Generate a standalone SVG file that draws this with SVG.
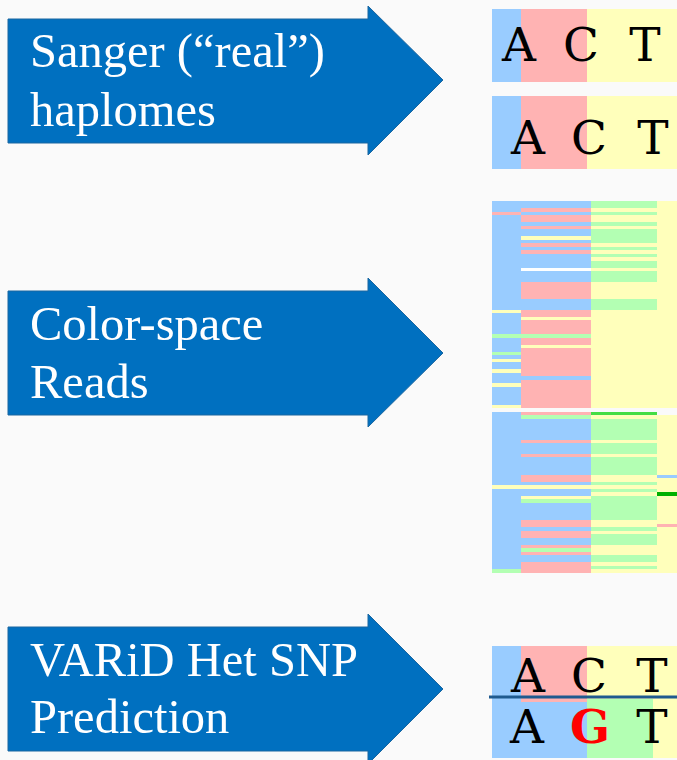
<svg xmlns="http://www.w3.org/2000/svg" width="677" height="760" viewBox="0 0 677 760">
<style>
.arrow{fill:#0070c0;stroke:#1a66a0;stroke-width:1}
.lbl{font-family:"Liberation Serif","DejaVu Serif",serif;font-size:48.5px;fill:#ffffff}
.b{fill:#99ccff}.p{fill:#ffb3b3}.y{fill:#ffffbb}.g{fill:#b3ffb3}.w{fill:#ffffff}
.nt{font-family:"DejaVu Serif","Liberation Serif",serif;font-size:47px;fill:#000;text-anchor:middle}
</style>
<rect width="677" height="760" fill="#fafafa"/>
<g id="arrow-sanger">
<polygon class="arrow" points="8,19 368,19 368,6 443,80 368,155 368,143 8,143"/>
<text class="lbl" x="30" y="67">Sanger (“real”)</text>
<text class="lbl" x="30" y="126">haplomes</text>
</g>
<g id="arrow-reads">
<polygon class="arrow" points="8,291 368,291 368,278 443,353 368,427 368,415 8,415"/>
<text class="lbl" x="30" y="340">Color-space</text>
<text class="lbl" x="30" y="398">Reads</text>
</g>
<g id="arrow-varid">
<polygon class="arrow" points="8,627 368,627 368,614 443,689 368,764 368,751 8,751"/>
<text class="lbl" x="30" y="676">VARiD Het SNP</text>
<text class="lbl" x="30" y="733">Prediction</text>
</g>
<g id="sanger-hap1">
<rect class="b" x="492" y="9" width="29" height="73"/>
<rect class="p" x="521" y="9" width="66" height="73"/>
<rect class="y" x="587" y="9" width="90" height="73"/>
<text class="nt" x="519" y="61">A</text>
<text class="nt" x="581" y="61">C</text>
<text class="nt" x="645" y="61">T</text>
</g>
<g id="sanger-hap2">
<rect class="b" x="492" y="96" width="29" height="73"/>
<rect class="p" x="521" y="96" width="66" height="73"/>
<rect class="y" x="587" y="96" width="90" height="73"/>
<text class="nt" x="528" y="154">A</text>
<text class="nt" x="589" y="154">C</text>
<text class="nt" x="653" y="154">T</text>
</g>
<g id="reads-block1">
<rect class="b" x="492" y="201" width="29" height="207"/>
<rect class="p" x="492" y="212" width="29" height="3"/>
<rect class="y" x="492" y="310" width="29" height="3"/>
<rect class="g" x="492" y="334" width="29" height="4"/>
<rect class="g" x="492" y="352" width="29" height="3"/>
<rect class="y" x="492" y="359" width="29" height="3"/>
<rect class="y" x="492" y="369" width="29" height="4"/>
<rect class="y" x="492" y="383" width="29" height="4"/>
<rect class="y" x="492" y="405" width="29" height="3"/>
<rect class="p" x="521" y="201" width="70" height="207"/>
<rect class="b" x="521" y="201" width="70" height="7"/>
<rect class="b" x="521" y="212" width="70" height="3"/>
<rect class="b" x="521" y="222" width="70" height="4"/>
<rect class="b" x="521" y="229" width="70" height="7"/>
<rect class="y" x="521" y="236" width="70" height="4"/>
<rect class="b" x="521" y="240" width="70" height="3"/>
<rect class="b" x="521" y="247" width="70" height="3"/>
<rect class="b" x="521" y="254" width="70" height="14"/>
<rect class="w" x="521" y="268" width="70" height="3"/>
<rect class="b" x="521" y="271" width="70" height="11"/>
<rect class="b" x="521" y="299" width="70" height="11"/>
<rect class="y" x="521" y="317" width="70" height="3"/>
<rect class="g" x="521" y="334" width="70" height="4"/>
<rect class="y" x="521" y="345" width="70" height="3"/>
<rect class="b" x="521" y="376" width="70" height="4"/>
<rect class="y" x="591" y="201" width="86" height="207"/>
<rect class="g" x="591" y="201" width="66" height="7"/>
<rect class="g" x="591" y="212" width="66" height="3"/>
<rect class="g" x="591" y="222" width="66" height="4"/>
<rect class="g" x="591" y="229" width="66" height="14"/>
<rect class="g" x="591" y="247" width="66" height="3"/>
<rect class="g" x="591" y="254" width="66" height="3"/>
<rect class="g" x="591" y="261" width="66" height="7"/>
<rect class="g" x="591" y="271" width="66" height="11"/>
<rect class="g" x="591" y="299" width="66" height="11"/>
</g>
<g id="reads-block2">
<rect class="b" x="492" y="412" width="29" height="161"/>
<rect class="g" x="492" y="569" width="29" height="4"/>
<rect class="b" x="521" y="412" width="70" height="161"/>
<rect class="p" x="521" y="412" width="70" height="3"/>
<rect class="g" x="521" y="415" width="70" height="4"/>
<rect class="p" x="521" y="440" width="70" height="3"/>
<rect class="p" x="521" y="454" width="70" height="3"/>
<rect class="p" x="521" y="475" width="70" height="7"/>
<rect class="y" x="521" y="496" width="70" height="3"/>
<rect class="g" x="521" y="499" width="70" height="4"/>
<rect class="p" x="521" y="520" width="70" height="7"/>
<rect class="p" x="521" y="531" width="70" height="7"/>
<rect class="p" x="521" y="545" width="70" height="3"/>
<rect class="g" x="521" y="548" width="70" height="4"/>
<rect class="p" x="521" y="552" width="70" height="3"/>
<rect class="p" x="521" y="562" width="70" height="11"/>
<rect class="g" x="591" y="412" width="66" height="161"/>
<rect x="591" y="412" width="66" height="3" fill="#44dd44"/>
<rect class="y" x="591" y="415" width="66" height="4"/>
<rect class="y" x="591" y="440" width="66" height="3"/>
<rect class="y" x="591" y="454" width="66" height="3"/>
<rect class="y" x="591" y="475" width="66" height="7"/>
<rect class="y" x="591" y="492" width="66" height="4"/>
<rect class="y" x="591" y="520" width="66" height="7"/>
<rect class="y" x="591" y="531" width="66" height="3"/>
<rect class="y" x="591" y="545" width="66" height="10"/>
<rect class="y" x="591" y="562" width="66" height="4"/>
<rect class="y" x="591" y="569" width="66" height="4"/>
<rect class="y" x="657" y="415" width="20" height="158"/>
<rect class="b" x="657" y="475" width="20" height="3"/>
<rect x="657" y="492" width="20" height="4" fill="#00b000"/>
<rect class="p" x="657" y="524" width="20" height="3"/>
<rect class="y" x="492" y="485" width="185" height="4"/>
</g>
<g id="varid-prediction">
<rect class="b" x="492" y="699" width="95" height="59"/>
<rect class="g" x="587" y="699" width="66" height="59"/>
<rect class="y" x="653" y="699" width="24" height="59"/>
<rect class="b" x="492" y="646" width="29" height="53"/>
<rect class="p" x="521" y="646" width="66" height="56"/>
<rect class="y" x="587" y="646" width="90" height="53"/>
<text class="nt" x="528" y="692">A</text>
<text class="nt" x="589" y="692">C</text>
<text class="nt" x="652" y="692">T</text>
<text class="nt" x="527" y="743">A</text>
<text class="nt" x="590" y="743" style="fill:#ff0000;font-weight:bold">G</text>
<text class="nt" x="652" y="743">T</text>
</g>
<g id="connectors">
<line x1="489" y1="697" x2="677" y2="697" stroke="#1f5a8f" stroke-width="3"/>
</g>
</svg>
